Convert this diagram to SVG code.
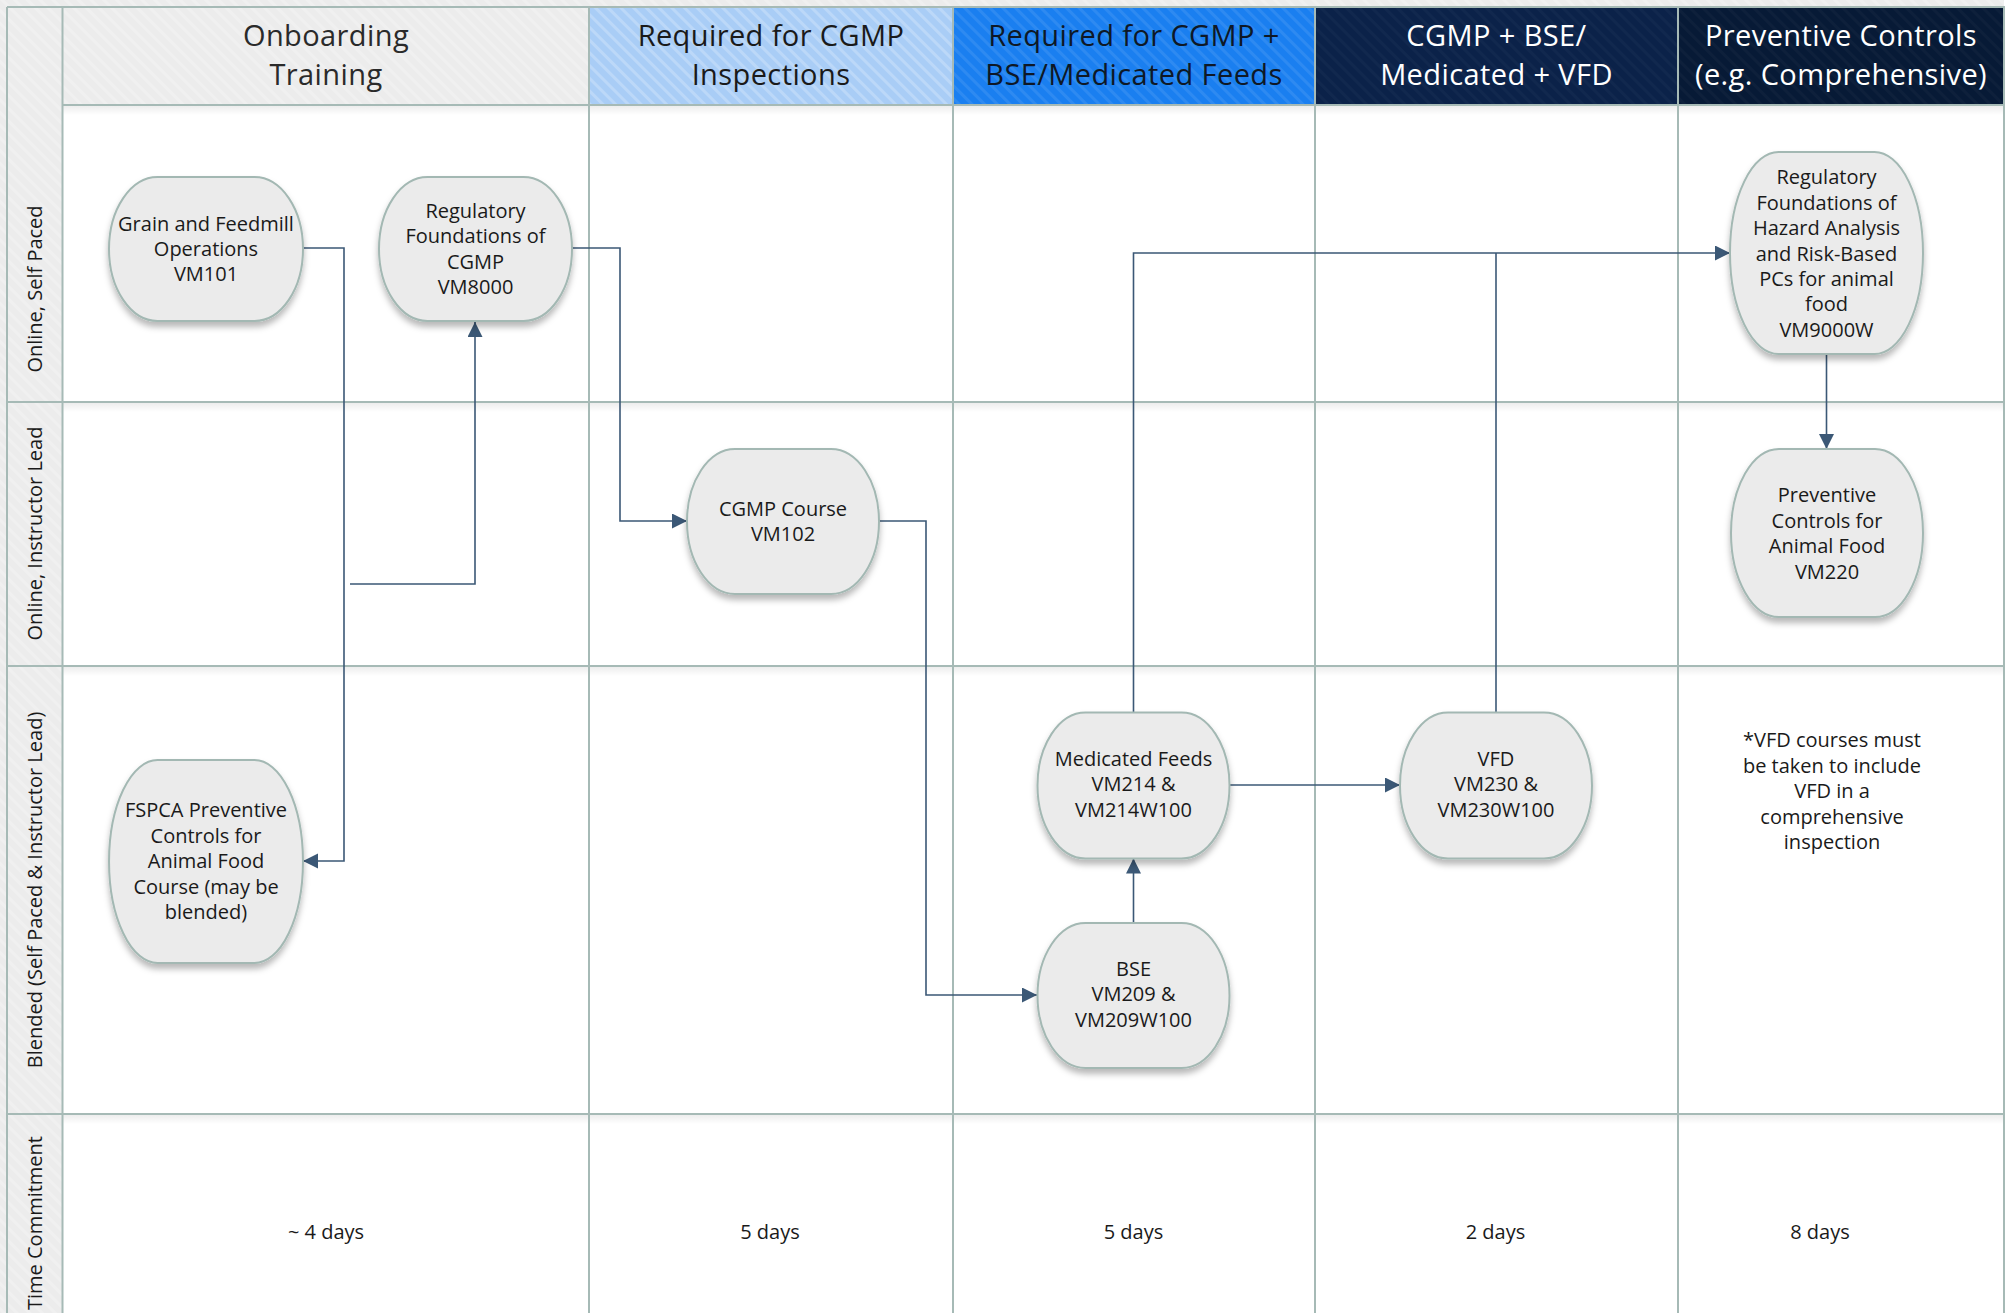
<svg xmlns="http://www.w3.org/2000/svg" width="2013" height="1313" viewBox="0 0 2013 1313">
<defs>
<pattern id="hatch" patternUnits="userSpaceOnUse" width="9" height="9" patternTransform="rotate(-45)">
<rect x="0" y="0" width="3" height="9" fill="#ffffff" fill-opacity="0.22"/>
</pattern>
<linearGradient id="lshadow" x1="0" y1="0" x2="0" y2="1">
<stop offset="0" stop-color="#000000" stop-opacity="0.07"/>
<stop offset="1" stop-color="#000000" stop-opacity="0"/>
</linearGradient>
<filter id="shadow" x="-20%" y="-20%" width="140%" height="150%">
<feDropShadow dx="0" dy="5" stdDeviation="3" flood-color="#000000" flood-opacity="0.28"/>
</filter>
<marker id="arrow" markerUnits="userSpaceOnUse" markerWidth="16" markerHeight="16" refX="15" refY="7.5" orient="auto">
<path d="M0,0 L15,7.5 L0,15 Z" fill="#3b5876"/>
</marker>
<style>
.grid{stroke:#a6bab6;stroke-width:2;fill:none}
.node path{fill:#ebebeb;stroke:#a3b8b3;stroke-width:2}
.node text,.lbl,.days,.note{font-family:"Open Sans","Noto Sans","DejaVu Sans",sans-serif;font-size:20px;fill:#1a1a1a;text-anchor:middle}
.hdr{font-family:"Open Sans","Noto Sans","DejaVu Sans",sans-serif;font-size:29px;letter-spacing:0.4px;text-anchor:middle}
.conn path{fill:none;stroke:#3b5876;stroke-width:1.6}
</style>
</defs>

<!-- background / pool -->
<rect x="0" y="0" width="2013" height="1313" fill="#ffffff"/>
<rect x="0" y="0" width="2004" height="1313" fill="#ececec"/>
<rect x="0" y="0" width="2004" height="1313" fill="url(#hatch)"/>
<rect x="62.5" y="105" width="1941.5" height="1208" fill="#ffffff"/>

<!-- header cells -->
<g id="header-onboarding">
<rect x="62.5" y="7" width="526.5" height="98" fill="#ececec"/>
<rect x="62.5" y="7" width="526.5" height="98" fill="url(#hatch)"/>
<text class="hdr" x="326" y="45.5" fill="#2a2a2a">Onboarding</text>
<text class="hdr" x="326" y="84.5" fill="#2a2a2a">Training</text>
</g>
<g id="header-cgmp">
<rect x="589" y="7" width="364" height="98" fill="#a9cdf6"/>
<rect x="589" y="7" width="364" height="98" fill="url(#hatch)"/>
<text class="hdr" x="771" y="45.5" fill="#1a1a1a">Required for CGMP</text>
<text class="hdr" x="771" y="84.5" fill="#1a1a1a">Inspections</text>
</g>
<g id="header-bse">
<rect x="953" y="7" width="362" height="98" fill="#1a7ff0"/>
<rect x="953" y="7" width="362" height="98" fill="url(#hatch)" opacity="0.4"/>
<text class="hdr" x="1134" y="45.5" fill="#0e1826">Required for CGMP +</text>
<text class="hdr" x="1134" y="84.5" fill="#0e1826">BSE/Medicated Feeds</text>
</g>
<g id="header-vfd">
<rect x="1315" y="7" width="363" height="98" fill="#0b2249"/>
<rect x="1315" y="7" width="363" height="98" fill="url(#hatch)" opacity="0.12"/>
<text class="hdr" x="1496.5" y="45.5" fill="#ffffff">CGMP + BSE/</text>
<text class="hdr" x="1496.5" y="84.5" fill="#ffffff">Medicated + VFD</text>
</g>
<g id="header-pc">
<rect x="1678" y="7" width="326" height="98" fill="#071a36"/>
<rect x="1678" y="7" width="326" height="98" fill="url(#hatch)" opacity="0.12"/>
<text class="hdr" x="1841" y="45.5" fill="#ffffff">Preventive Controls</text>
<text class="hdr" x="1841" y="84.5" fill="#ffffff">(e.g. Comprehensive)</text>
</g>

<!-- lane shadows -->
<rect x="62.5" y="106" width="1941.5" height="9" fill="url(#lshadow)"/>
<rect x="62.5" y="403" width="1941.5" height="9" fill="url(#lshadow)"/>
<rect x="62.5" y="667" width="1941.5" height="9" fill="url(#lshadow)"/>
<rect x="62.5" y="1115" width="1941.5" height="9" fill="url(#lshadow)"/>

<!-- grid -->
<g id="grid" class="grid">
<path d="M7,7 H2004 V1313"/>
<path d="M7,7 V1313"/>
<path d="M62.5,7 V1313"/>
<path d="M62.5,105 H2004"/>
<path d="M7,402 H2004"/>
<path d="M7,666 H2004"/>
<path d="M7,1114 H2004"/>
<path d="M589,7 V1313"/>
<path d="M953,7 V1313"/>
<path d="M1315,7 V1313"/>
<path d="M1678,7 V1313"/>
</g>

<!-- lane labels -->
<g id="lane-labels">
<text class="lbl" transform="translate(42,289) rotate(-90)">Online, Self Paced</text>
<text class="lbl" transform="translate(42,533.5) rotate(-90)">Online, Instructor Lead</text>
<text class="lbl" transform="translate(42,890) rotate(-90)">Blended (Self Paced &amp; Instructor Lead)</text>
<text class="lbl" transform="translate(42,1223) rotate(-90)">Time Commitment</text>
</g>

<!-- connectors -->
<g id="connectors" class="conn">
<path d="M303,248 H344 V861 H303" marker-end="url(#arrow)"/>
<path d="M350,584 H475 V322" marker-end="url(#arrow)"/>
<path d="M572,248 H620 V521 H687" marker-end="url(#arrow)"/>
<path d="M879,521 H926 V995 H1037" marker-end="url(#arrow)"/>
<path d="M1133.5,923 V858.5" marker-end="url(#arrow)"/>
<path d="M1230,785 H1400" marker-end="url(#arrow)"/>
<path d="M1133.5,712 V253 H1730" marker-end="url(#arrow)"/>
<path d="M1496,712 V253"/>
<path d="M1826.5,354 V449" marker-end="url(#arrow)"/>
</g>

<!-- nodes -->
<g id="node-vm101" class="node">
<path filter="url(#shadow)" d="M157.5,177 H254.5 A48.5,72 0 0 1 254.5,321 H157.5 A48.5,72 0 0 1 157.5,177 Z"/>
<text x="206" y="230.5">Grain and Feedmill</text>
<text x="206" y="255.5">Operations</text>
<text x="206" y="280.5">VM101</text>
</g>
<g id="node-vm8000" class="node">
<path filter="url(#shadow)" d="M427.5,177 H523.5 A48.5,72 0 0 1 523.5,321 H427.5 A48.5,72 0 0 1 427.5,177 Z"/>
<text x="475.5" y="217.5">Regulatory</text>
<text x="475.5" y="243">Foundations of</text>
<text x="475.5" y="268.5">CGMP</text>
<text x="475.5" y="294">VM8000</text>
</g>
<g id="node-vm102" class="node">
<path filter="url(#shadow)" d="M735,449 H831 A48,72.5 0 0 1 831,594 H735 A48,72.5 0 0 1 735,449 Z"/>
<text x="783" y="515.5">CGMP Course</text>
<text x="783" y="541">VM102</text>
</g>
<g id="node-fspca" class="node">
<path filter="url(#shadow)" d="M157.5,760 H254.5 A48.5,101.5 0 0 1 254.5,963 H157.5 A48.5,101.5 0 0 1 157.5,760 Z"/>
<text x="206" y="817">FSPCA Preventive</text>
<text x="206" y="842.5">Controls for</text>
<text x="206" y="868">Animal Food</text>
<text x="206" y="893.5">Course (may be</text>
<text x="206" y="919">blended)</text>
</g>
<g id="node-vm214" class="node">
<path filter="url(#shadow)" d="M1085.5,712.5 H1181.5 A48,73 0 0 1 1181.5,858.5 H1085.5 A48,73 0 0 1 1085.5,712.5 Z"/>
<text x="1133.5" y="765.5">Medicated Feeds</text>
<text x="1133.5" y="791">VM214 &amp;</text>
<text x="1133.5" y="816.5">VM214W100</text>
</g>
<g id="node-vm209" class="node">
<path filter="url(#shadow)" d="M1085.5,923 H1181.5 A48,72.5 0 0 1 1181.5,1068 H1085.5 A48,72.5 0 0 1 1085.5,923 Z"/>
<text x="1133.5" y="975.5">BSE</text>
<text x="1133.5" y="1001">VM209 &amp;</text>
<text x="1133.5" y="1026.5">VM209W100</text>
</g>
<g id="node-vm230" class="node">
<path filter="url(#shadow)" d="M1448,712.5 H1544 A48,73 0 0 1 1544,858.5 H1448 A48,73 0 0 1 1448,712.5 Z"/>
<text x="1496" y="765.5">VFD</text>
<text x="1496" y="791">VM230 &amp;</text>
<text x="1496" y="816.5">VM230W100</text>
</g>
<g id="node-vm9000w" class="node">
<path filter="url(#shadow)" d="M1778.5,152 H1874.5 A48.5,101 0 0 1 1874.5,354 H1778.5 A48.5,101 0 0 1 1778.5,152 Z"/>
<text x="1826.5" y="184">Regulatory</text>
<text x="1826.5" y="209.5">Foundations of</text>
<text x="1826.5" y="235">Hazard Analysis</text>
<text x="1826.5" y="260.5">and Risk-Based</text>
<text x="1826.5" y="286">PCs for animal</text>
<text x="1826.5" y="311">food</text>
<text x="1826.5" y="336.5">VM9000W</text>
</g>
<g id="node-vm220" class="node">
<path filter="url(#shadow)" d="M1779,449 H1875 A48,84 0 0 1 1875,617 H1779 A48,84 0 0 1 1779,449 Z"/>
<text x="1827" y="502">Preventive</text>
<text x="1827" y="527.5">Controls for</text>
<text x="1827" y="553">Animal Food</text>
<text x="1827" y="578.5">VM220</text>
</g>

<!-- note -->
<g id="note">
<text class="note" x="1832" y="747">*VFD courses must</text>
<text class="note" x="1832" y="772.5">be taken to include</text>
<text class="note" x="1832" y="798">VFD in a</text>
<text class="note" x="1832" y="823.5">comprehensive</text>
<text class="note" x="1832" y="849">inspection</text>
</g>

<!-- time commitment -->
<g id="time-commitment">
<text class="days" x="326" y="1239">~ 4 days</text>
<text class="days" x="770" y="1239">5 days</text>
<text class="days" x="1133.5" y="1239">5 days</text>
<text class="days" x="1495.5" y="1239">2 days</text>
<text class="days" x="1820" y="1239">8 days</text>
</g>
</svg>
